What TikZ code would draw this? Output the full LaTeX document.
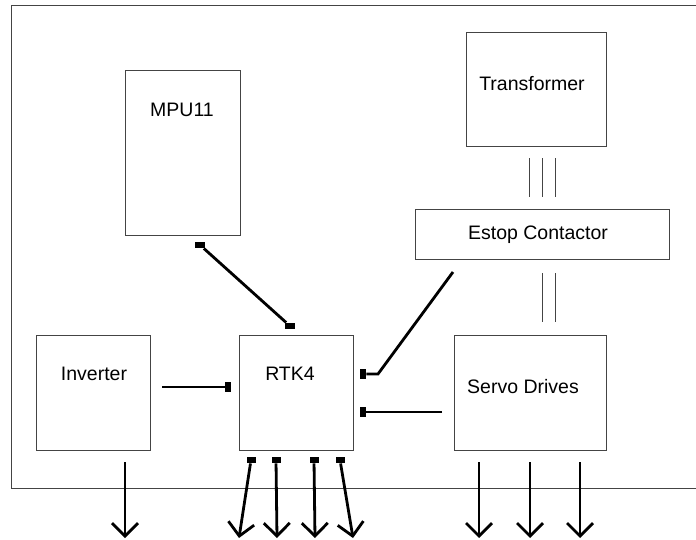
\documentclass[tikz,border=0pt]{standalone}
\usepackage{fontspec}
\setmainfont{Liberation Sans}
\usetikzlibrary{arrows.meta}
\definecolor{Edge}{HTML}{444444}

\begin{document}
\begin{tikzpicture}[
  x=1pt,y=-1pt,
  block/.style={draw=Edge,line width=0.9pt,inner sep=0pt},
  tag/.style={anchor=base,inner sep=0pt,font=\fontsize{19.5}{23}\selectfont},
  pinh/.style={fill=black,inner sep=0pt,minimum width=9pt,minimum height=6.5pt},
  pinv/.style={fill=black,inner sep=0pt,minimum width=6.5pt,minimum height=10pt},
  wire/.style={line width=2.8pt,draw=black},
  drive/.style={wire,-{Straight Barb[length=13pt,width=26pt]}},
  bus/.style={draw=Edge,line width=1pt}
]
\useasboundingbox (0,0) rectangle (696,540);
% cabinet outline, open on the right
\draw[draw=Edge,line width=1pt] (700,6) -| (11,488) -- (700,488);

% units
\node[block,minimum width=115pt,minimum height=165pt] (mpu) at (182.5,152.5) {};
\node[block,minimum width=140pt,minimum height=114pt] (xfmr) at (536,89) {};
\node[block,minimum width=254pt,minimum height=50pt] (estop) at (542,234) {};
\node[block,minimum width=114pt,minimum height=115pt] (inv) at (93,393) {};
\node[block,minimum width=114pt,minimum height=115pt] (rtk) at (296,393) {};
\node[block,minimum width=152pt,minimum height=115pt] (servo) at (530,393) {};

\node[tag] (mpu-t) at (182,117) {MPU11};
\node[tag] (xfmr-t) at (532,91) {Transformer};
\node[tag] (estop-t) at (538,240) {Estop Contactor};
\node[tag] (inv-t) at (94,380) {Inverter};
\node[tag] (rtk-t) at (290,380) {RTK4};
\node[tag] (servo-t) at (523,393) {Servo Drives};

% power bus
\foreach \dx in {-13,0,13}
  \draw[bus] ([xshift=\dx pt,yshift=12pt]estop.north) -- ([xshift=\dx pt,yshift=51pt]estop.north);
\foreach \dx in {0,13}
  \draw[bus] ([xshift=\dx pt,yshift=-14pt]estop.south) -- ([xshift=\dx pt,yshift=-63pt]estop.south);

% signal wiring to RTK4
\node[pinh,minimum width=10pt] (mpu-p) at (200,245) {};
\node[pinh,minimum width=10pt] (rtk-p) at (290,326) {};
\draw[wire] (mpu-p) -- (rtk-p);

\coordinate (estop-c) at (453,272);
\node[pinv] (rtk-e) at (363,374) {};
\draw[wire] (estop-c) -- ([xshift=15pt]rtk-e.center) -- (rtk-e);

\coordinate (servo-c) at (442,412);
\node[pinv] (rtk-s) at (363,412) {};
\draw[wire] (servo-c) -- (rtk-s);

\coordinate (inv-c) at (162,387);
\node[pinv] (rtk-i) at (228,387) {};
\draw[wire] (inv-c) -- (rtk-i);

% field outputs
\foreach \n/\a/\b in {1/251/239,2/276/277,3/314/315,4/340/353}{
  \node[pinh] (rtk-o\n) at (\a,460) {};
  \coordinate (rtk-t\n) at (\b,538);
  \draw[drive] (rtk-o\n) -- (rtk-t\n);
}
\coordinate (inv-o) at (125,462);
\coordinate (inv-t) at (125,538);
\draw[drive] (inv-o) -- (inv-t);
\foreach \n/\a in {1/479,2/530,3/580}{
  \coordinate (servo-o\n) at (\a,462);
  \coordinate (servo-t\n) at (\a,538);
  \draw[drive] (servo-o\n) -- (servo-t\n);
}
\end{tikzpicture}
\end{document}
